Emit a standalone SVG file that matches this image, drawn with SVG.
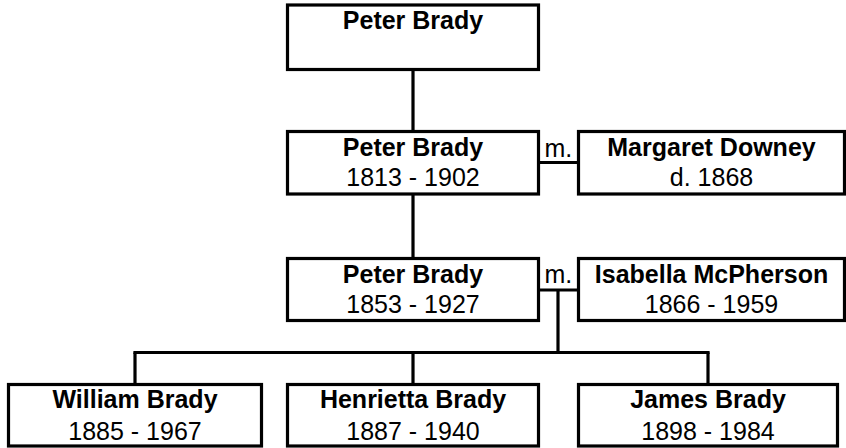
<svg xmlns="http://www.w3.org/2000/svg" width="846" height="448" viewBox="0 0 846 448">
<style>
rect.box{fill:#fff;stroke:#000;stroke-width:3.2}
.lines line{stroke:#000;stroke-width:3.2}
text{font-family:"Liberation Sans",Arial,sans-serif;font-size:25px;fill:#000;text-anchor:middle}
.n{font-weight:bold}
.m{text-anchor:start}
</style>
<rect width="846" height="448" fill="#fff"/>
<g id="connectors" class="lines">
<line x1="413" y1="70" x2="413" y2="131.5"/>
<line x1="413" y1="194" x2="413" y2="258.5"/>
<line x1="538.5" y1="162.5" x2="578.5" y2="162.5"/>
<line x1="538.5" y1="290" x2="578.5" y2="290"/>
<line x1="558" y1="290" x2="558" y2="352.5"/>
<line x1="133.4" y1="352.5" x2="709.6" y2="352.5"/>
<line x1="135" y1="352.5" x2="135" y2="384.5"/>
<line x1="413" y1="352.5" x2="413" y2="384.5"/>
<line x1="708" y1="352.5" x2="708" y2="384.5"/>
</g>
<g id="peter1">
<rect class="box" x="287.5" y="5" width="251" height="64.5"/>
<text class="n" x="413" y="28.5">Peter Brady</text>
</g>
<g id="peter2">
<rect class="box" x="287.5" y="131.5" width="251" height="62.5"/>
<text class="n" x="413" y="156">Peter Brady</text>
<text x="413" y="186">1813 - 1902</text>
</g>
<text class="m" x="544.5" y="156.5">m.</text>
<g id="margaret">
<rect class="box" x="578.5" y="131.5" width="266" height="62.5"/>
<text class="n" x="711.5" y="156">Margaret Downey</text>
<text x="711.5" y="186">d. 1868</text>
</g>
<g id="peter3">
<rect class="box" x="287.5" y="258.5" width="251" height="62"/>
<text class="n" x="413" y="282.5">Peter Brady</text>
<text x="413" y="313">1853 - 1927</text>
</g>
<text class="m" x="544.5" y="282.5">m.</text>
<g id="isabella">
<rect class="box" x="578.5" y="258.5" width="266" height="62"/>
<text class="n" x="711.5" y="282.5">Isabella McPherson</text>
<text x="711.5" y="313">1866 - 1959</text>
</g>
<g id="william">
<rect class="box" x="8.5" y="384.5" width="253" height="61.5"/>
<text class="n" x="135" y="407.5">William Brady</text>
<text x="135" y="440">1885 - 1967</text>
</g>
<g id="henrietta">
<rect class="box" x="287.5" y="384.5" width="251" height="61.5"/>
<text class="n" x="413" y="407.5">Henrietta Brady</text>
<text x="413" y="440">1887 - 1940</text>
</g>
<g id="james">
<rect class="box" x="578.5" y="384.5" width="259" height="61.5"/>
<text class="n" x="708" y="407.5">James Brady</text>
<text x="708" y="440">1898 - 1984</text>
</g>
</svg>
